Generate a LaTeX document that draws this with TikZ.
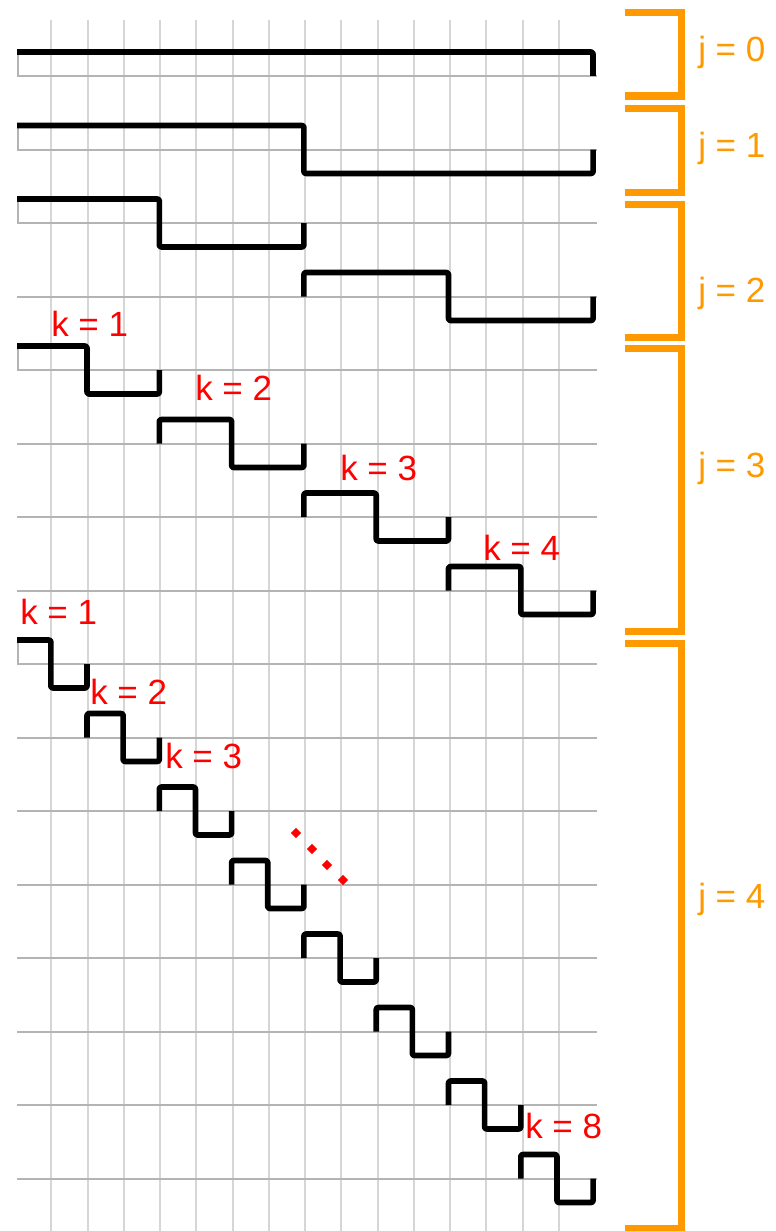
\documentclass[tikz,border=0pt]{standalone}
\usepackage{fontspec}
\setmainfont{Liberation Sans}
\usetikzlibrary{shapes.geometric}
\definecolor{brk}{HTML}{FF9900}
\definecolor{gridv}{HTML}{D6D6D6}
\definecolor{gridh}{HTML}{B4B4B4}
\begin{document}
\begin{tikzpicture}[x=0.75pt,y=-0.75pt,
  sig/.style={line width=4.2pt, black, line join=round, rounded corners=1.5pt},
  vgrid/.style={line width=1.5pt, gridv},
  hgrid/.style={line width=1.5pt, gridh},
  edgeline/.style={line width=1.2pt, gridh},
  brace/.style={line width=5.25pt, brk, line join=miter},
  jlab/.style={text=brk, font=\fontsize{26.25}{30}\selectfont, anchor=base west, inner sep=0pt},
  klab/.style={text=red, font=\fontsize{26.25}{30}\selectfont, anchor=base west, inner sep=0pt},
  rdot/.style={diamond, fill=red, inner sep=0pt, minimum width=8pt, minimum height=8pt}]
\useasboundingbox (0,0) rectangle (775,1231);

% vertical grid lines
\foreach \i in {1,...,15} \draw[vgrid] ({15+36.25*\i},20) -- ({15+36.25*\i},1231);
% horizontal baselines
\foreach \r in {0,...,15} \draw[hgrid] (17,{76+73.5*\r}) -- (597,{76+73.5*\r});

% j = 0 scaling function
\draw[edgeline] (18,52) -- (18,76);
\draw[sig] (17,52) -- (593,52) -- (593,76);

% Haar wavelets
\foreach \r/\j/\k in {1/1/1, 2/2/1, 3/2/2, 4/3/1, 5/3/2, 6/3/3, 7/3/4,
  8/4/1, 9/4/2, 10/4/3, 11/4/4, 12/4/5, 13/4/6, 14/4/7, 15/4/8}{
  \pgfmathsetmacro\w{32/(2^\j)}
  \pgfmathsetmacro\xs{14.7+36.15*(\k-1)*\w}
  \pgfmathsetmacro\xm{\xs+36.15*\w/2}
  \pgfmathsetmacro\xe{\xs+36.15*\w}
  \pgfmathsetmacro\yb{76+73.5*\r}
  \pgfmathsetmacro\yh{\yb-24}
  \pgfmathsetmacro\yl{\yb+24}
  \ifnum\k=1
    \draw[edgeline] (18,\yh) -- (18,\yb);
    \draw[sig] (17,\yh) -- (\xm,\yh) -- (\xm,\yl) -- (\xe,\yl) -- (\xe,\yb);
  \else
    \draw[sig] (\xs,\yb) -- (\xs,\yh) -- (\xm,\yh) -- (\xm,\yl) -- (\xe,\yl) -- (\xe,\yb);
  \fi
}

% orange brackets
\draw[brace] (625,13) -- (681,13) -- (681,96) -- (625,96);
\draw[brace] (625,108) -- (681,108) -- (681,192) -- (625,192);
\draw[brace] (625,204) -- (681,204) -- (681,337) -- (625,337);
\draw[brace] (625,348) -- (681,348) -- (681,631) -- (625,631);
\draw[brace] (625,643) -- (681,643) -- (681,1228) -- (625,1228);

% level labels
\node[jlab] (j0) at (698,62) {j = 0};
\node[jlab] (j1) at (698,157) {j = 1};
\node[jlab] (j2) at (698,302) {j = 2};
\node[jlab] (j3) at (698,477) {j = 3};
\node[jlab] (j4) at (698,908) {j = 4};

% translation labels
\node[klab] (k31) at (51,336) {k = 1};
\node[klab] (k32) at (195,400) {k = 2};
\node[klab] (k33) at (340,480) {k = 3};
\node[klab] (k34) at (483,560) {k = 4};
\node[klab] (k41) at (20,624) {k = 1};
\node[klab] (k42) at (90,704) {k = 2};
\node[klab] (k43) at (165,768) {k = 3};
\node[klab] (k48) at (525,1138) {k = 8};

% ellipsis dots
\node[rdot] (d1) at (296,833) {};
\node[rdot] (d2) at (312,849) {};
\node[rdot] (d3) at (327,865) {};
\node[rdot] (d4) at (343,880) {};
\end{tikzpicture}
\end{document}
